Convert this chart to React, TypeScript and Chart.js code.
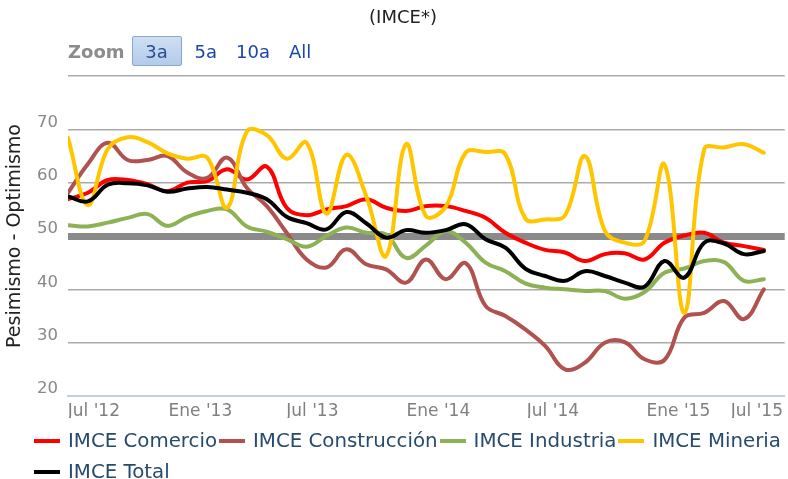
import React, { useEffect, useRef } from 'react';
import { Chart, registerables } from 'chart.js';

Chart.register(...registerables);

const FONT = "'DejaVu Sans', sans-serif";

const seriesNames = ['IMCE Comercio', 'IMCE Construcción', 'IMCE Industria', 'IMCE Mineria', 'IMCE Total'];
const seriesColors = ['#ff0000', '#b0524f', '#8db255', '#ffc600', '#000000'];

const comercio = [56.9, 58.1, 60.5, 60.5, 59.7, 58.4, 60.0, 60.3, 62.5, 60.6, 63.0, 55.3, 53.9, 55.0, 55.6, 56.9, 55.3, 54.7, 55.6, 55.6, 54.7, 53.4, 50.6, 48.75, 47.4, 46.9, 45.3, 46.6, 46.75, 45.6, 48.75, 50.1, 50.6, 48.75, 48.1, 47.4];
const construccion = [58.1, 63.5, 67.5, 64.25, 64.25, 65.0, 61.9, 60.9, 64.7, 59.0, 55.6, 50.6, 45.6, 44.1, 47.5, 44.7, 43.75, 41.25, 45.6, 41.9, 44.9, 36.9, 35.0, 32.5, 29.4, 25.0, 26.25, 30.0, 30.1, 26.9, 26.75, 34.7, 35.6, 37.8, 34.4, 40.0];
const industria = [52.0, 51.8, 52.5, 53.4, 54.1, 51.9, 53.6, 54.7, 55.0, 51.8, 50.8, 49.4, 48.0, 50.0, 51.6, 50.6, 50.3, 45.9, 48.2, 50.9, 48.75, 45.0, 43.4, 41.1, 40.3, 40.0, 39.7, 39.7, 38.25, 39.5, 43.1, 43.9, 45.3, 45.1, 41.6, 41.9];
const mineria = [68.4, 55.8, 66.3, 68.5, 67.6, 65.5, 64.5, 64.7, 55.3, 69.6, 68.9, 64.5, 67.5, 54.2, 65.2, 57.5, 46.25, 67.2, 53.75, 55.5, 65.6, 65.75, 65.3, 53.3, 53.1, 53.9, 65.0, 51.0, 48.75, 49.1, 63.4, 35.6, 66.25, 66.6, 67.2, 65.6];
const total = [57.4, 56.5, 59.6, 59.9, 59.5, 58.3, 58.9, 59.2, 58.7, 58.1, 56.9, 53.6, 52.4, 51.25, 54.5, 52.4, 49.7, 51.1, 50.6, 51.1, 52.2, 49.4, 47.8, 43.9, 42.5, 41.6, 43.4, 42.5, 41.25, 40.5, 45.3, 42.2, 48.75, 48.6, 46.6, 47.2];

const seriesValues = [comercio, construccion, industria, mineria, total];

const tickLabels = ["Jul '12", "Ene '13", "Jul '13", "Ene '14", "Jul '14", "Ene '15", "Jul '15"];
const tickPositions = [1.3, 6.66, 12.29, 18.63, 24.39, 30.7, 34.65];

const yMin = 20;
const yMax = 80;
const yStep = 10;
const referenceLevel = 50;

const zoomButtons = ['3a', '5a', '10a', 'All'];

export default function App() {
  const canvasRef = useRef<HTMLCanvasElement | null>(null);

  useEffect(() => {
    const canvas = canvasRef.current;
    if (!canvas) return;
    const n = comercio.length;
    const chart = new Chart(canvas, {
      type: 'line',
      data: {
        datasets: seriesValues.map((vals, i) => ({
          label: seriesNames[i],
          data: vals.map((v, j) => ({ x: j, y: v })),
          borderColor: seriesColors[i],
          backgroundColor: seriesColors[i],
          borderWidth: 4,
          pointRadius: 0,
          pointHoverRadius: 0,
          tension: 0.4,
          fill: false,
          borderJoinStyle: 'round',
          borderCapStyle: 'round',
          order: seriesValues.length - 1 - i,
        })),
      },
      options: {
        responsive: false,
        animation: false,
        events: [],
        layout: { padding: { left: 18, right: 0, top: 0, bottom: 61 } },
        plugins: {
          legend: { display: false },
          tooltip: { enabled: false },
          title: {
            display: true,
            text: '(IMCE*)',
            color: '#222',
            font: { family: FONT, size: 18, weight: 'normal' },
            padding: { top: 7.2, bottom: 47.2 },
          },
        },
        scales: {
          x: {
            type: 'linear',
            min: 0,
            max: n - 1 + 1.05,
            grid: { display: false, drawTicks: false },
            border: { display: true, color: '#c0d0e0', width: 2 },
            afterBuildTicks: (scale: any) => {
              scale.ticks = tickPositions.map((v) => ({ value: v }));
            },
            afterFit: (scale: any) => {
              scale.height = 22;
            },
            ticks: {
              autoSkip: false,
              maxRotation: 0,
              minRotation: 0,
              padding: 5,
              color: '#808080',
              font: { family: FONT, size: 17 },
              callback: (value: any) => {
                const idx = tickPositions.indexOf(Number(value));
                return idx >= 0 ? tickLabels[idx] : '';
              },
            },
          },
          y: {
            min: yMin,
            max: yMax,
            border: { display: false },
            afterFit: (scale: any) => {
              scale.width = 50;
            },
            grid: {
              drawTicks: false,
              color: (ctx: any) => {
                const v = ctx.tick ? ctx.tick.value : null;
                if (v === referenceLevel) return '#8a8a8a';
                if (v === yMin) return 'rgba(0,0,0,0)';
                return '#ababab';
              },
              lineWidth: (ctx: any) => (ctx.tick && ctx.tick.value === referenceLevel ? 7 : 1.5),
            },
            ticks: {
              stepSize: yStep,
              padding: 10,
              labelOffset: -7,
              color: '#888888',
              font: { family: FONT, size: 16.5 },
              callback: (value: any) => (Number(value) === yMax ? '' : String(value)),
            },
            title: {
              display: true,
              text: 'Pesimismo - Optimismo',
              color: '#222',
              font: { family: FONT, size: 19 },
              padding: { top: -14, bottom: 0 },
            },
          },
        },
      },
    } as any);
    return () => chart.destroy();
  }, []);

  return (
    <div style={{ position: 'absolute', left: 0, top: 0, width: 788, height: 479, background: '#fff', fontFamily: FONT }}>
      <canvas ref={canvasRef} width={788} height={479} style={{ position: 'absolute', left: 0, top: 0 }} />
      <div style={{ position: 'absolute', left: 68, top: 36, height: 30, display: 'flex', alignItems: 'center', fontSize: 18 }}>
        <span style={{ color: '#8c8c8c', fontWeight: 'bold', marginRight: 7 }}>Zoom</span>
        {zoomButtons.map((b, i) => (
          <span
            key={b}
            style={
              i === 0
                ? {
                    boxSizing: 'border-box',
                    width: 50,
                    height: 30,
                    display: 'inline-flex',
                    alignItems: 'center',
                    justifyContent: 'center',
                    background: 'linear-gradient(#cfdff3, #b3cbea)',
                    border: '1px solid #88a7cc',
                    borderRadius: 2,
                    color: '#2a4d8f',
                    marginRight: 13,
                  }
                : { color: '#1a47a6', marginRight: 19 }
            }
          >
            {b}
          </span>
        ))}
      </div>
      <div
        style={{
          position: 'absolute',
          left: 34,
          top: 425,
          width: 754,
          display: 'flex',
          flexWrap: 'wrap',
          fontSize: 19.8,
          lineHeight: '31px',
          color: '#274b6d',
        }}
      >
        {seriesNames.map((name, i) => (
          <div key={name} style={{ display: 'flex', alignItems: 'center', height: 31, marginRight: 2, whiteSpace: 'nowrap' }}>
            <span style={{ display: 'inline-block', width: 26, height: 4, background: seriesColors[i], marginRight: 8 }} />
            <span>{name}</span>
          </div>
        ))}
      </div>
    </div>
  );
}
